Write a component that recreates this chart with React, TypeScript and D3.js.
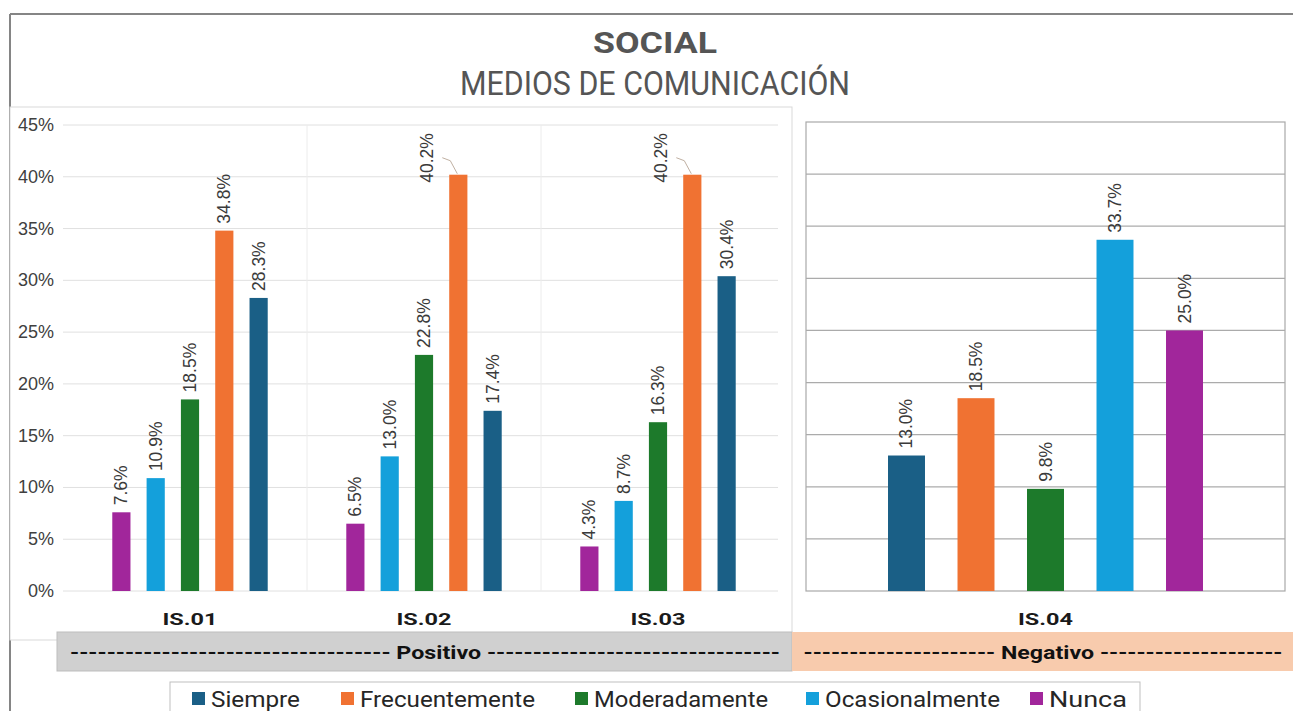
import * as d3 from "d3";

const categoriesPos = ["IS.01", "IS.02", "IS.03"];
const seriesPos = ["Nunca", "Ocasionalmente", "Moderadamente", "Frecuentemente", "Siempre"];
const nunca = [7.6, 6.5, 4.3];
const ocasionalmente = [10.9, 13.0, 8.7];
const moderadamente = [18.5, 22.8, 16.3];
const frecuentemente = [34.8, 40.2, 40.2];
const siempre = [28.3, 17.4, 30.4];

const categoriesNeg = ["IS.04"];
const seriesNeg = ["Siempre", "Frecuentemente", "Moderadamente", "Ocasionalmente", "Nunca"];
const valuesNeg = [13.0, 18.5, 9.8, 33.7, 25.0];

const yTicks = [0, 5, 10, 15, 20, 25, 30, 35, 40, 45];
const legendItems = ["Siempre", "Frecuentemente", "Moderadamente", "Ocasionalmente", "Nunca"];

const COLORS: Record<string, string> = {
  Siempre: "#1a5f86",
  Frecuentemente: "#f07232",
  Moderadamente: "#1d7a2b",
  Ocasionalmente: "#14a0db",
  Nunca: "#a1269b",
};

const posValues: Record<string, number[]> = {
  Nunca: nunca,
  Ocasionalmente: ocasionalmente,
  Moderadamente: moderadamente,
  Frecuentemente: frecuentemente,
  Siempre: siempre,
};

const W = 1293;
const H = 711;
const FONT = "'Liberation Sans', Arial, sans-serif";
const COND = "Roboto, 'Liberation Sans', sans-serif";

// left plot
const yL = d3.scaleLinear().domain([0, 45]).range([591, 125]);
const x0L = d3.scaleBand<string>().domain(categoriesPos).range([73, 775]);
const x1L = d3
  .scaleBand<string>()
  .domain(seriesPos)
  .range([0, x0L.bandwidth()])
  .paddingInner(0.47)
  .paddingOuter(1.145);

// right plot
const R = { left: 806, right: 1285, top: 122, bottom: 591 };
const yR = d3.scaleLinear().domain([0, 45]).range([R.bottom, R.top]);
const x0R = d3.scaleBand<string>().domain(categoriesNeg).range([R.left, R.right]);
const x1R = d3
  .scaleBand<string>()
  .domain(seriesNeg)
  .range([0, x0R.bandwidth()])
  .paddingInner(0.468)
  .paddingOuter(1.18);

function BarLabel({ cx, top, v }: { cx: number; top: number; v: number }) {
  const txt = `${v.toFixed(1)}%`;
  if (v >= 40) {
    // no room above: label moved left, with a leader line to the bar
    return (
      <g>
        <path
          d={`M${cx - 16},${top - 17} L${cx - 8},${top - 14} L${cx - 1},${top - 1}`}
          fill="none"
          stroke="#c0b0a2"
          strokeWidth={1}
        />
        <text
          transform={`translate(${cx - 31},${top + 8}) rotate(-90)`}
          dominantBaseline="central"
          fontFamily={FONT}
          fontSize={17.5}
          fill="#3a3a3a"
        >
          {txt}
        </text>
      </g>
    );
  }
  return (
    <text
      transform={`translate(${cx},${top - 7}) rotate(-90)`}
      dominantBaseline="central"
      fontFamily={FONT}
      fontSize={17.5}
      fill="#3a3a3a"
    >
      {txt}
    </text>
  );
}

export default function App() {
  const dashL = "-".repeat(35);
  const dashR = "-".repeat(32);
  const dashNL = "-".repeat(21);
  const dashNR = "-".repeat(20);
  const legendX = [192, 341, 575, 806, 1030];
  const legendW = [89, 175, 174, 175, 78];

  return (
    <svg
      width={W}
      height={H}
      viewBox={`0 0 ${W} ${H}`}
      style={{ position: "absolute", left: 0, top: 0, background: "#fff" }}
    >
      <rect x={0} y={0} width={W} height={H} fill="#fff" />

      {/* outer frame */}
      <line x1={10} y1={14} x2={W} y2={14} stroke="#858585" strokeWidth={2} />
      <line x1={10} y1={14} x2={10} y2={H} stroke="#858585" strokeWidth={2} />

      {/* titles */}
      <text
        x={655}
        y={53}
        textAnchor="middle"
        fontFamily={COND}
        fontWeight="bold"
        fontSize={29}
        fill="#555"
        textLength={124}
        lengthAdjust="spacingAndGlyphs"
      >
        SOCIAL
      </text>
      <text
        x={655}
        y={95}
        textAnchor="middle"
        fontFamily={COND}
        fontSize={34}
        fill="#555"
        textLength={390}
        lengthAdjust="spacingAndGlyphs"
      >
        MEDIOS DE COMUNICACIÓN
      </text>

      {/* left panel box */}
      <rect x={10} y={107} width={782} height={533} fill="#fff" stroke="#d9d9d9" strokeWidth={1} />

      {/* left gridlines */}
      {yTicks.map((t) => (
        <line key={t} x1={63} x2={778} y1={yL(t)} y2={yL(t)} stroke="#e0e0e0" strokeWidth={1} />
      ))}
      {categoriesPos.slice(1).map((c) => (
        <line
          key={c}
          x1={x0L(c)!}
          x2={x0L(c)!}
          y1={yL(45)}
          y2={yL(0)}
          stroke="#ececec"
          strokeWidth={1}
        />
      ))}
      {yTicks.map((t) => (
        <text
          key={t}
          x={54}
          y={yL(t)}
          textAnchor="end"
          dominantBaseline="central"
          fontFamily={FONT}
          fontSize={18}
          fill="#404040"
        >
          {`${t}%`}
        </text>
      ))}

      {/* left bars */}
      {categoriesPos.map((c, i) => (
        <g key={c} transform={`translate(${x0L(c)},0)`}>
          {seriesPos.map((s) => {
            const v = posValues[s][i];
            const bx = x1L(s)!;
            const top = yL(v);
            return (
              <g key={s}>
                <rect x={bx} y={top} width={x1L.bandwidth()} height={yL(0) - top} fill={COLORS[s]} />
                <BarLabel cx={bx + x1L.bandwidth() / 2} top={top} v={v} />
              </g>
            );
          })}
          <text
            x={x0L.bandwidth() / 2}
            y={625}
            textAnchor="middle"
            fontFamily={COND}
            fontWeight="bold"
            fontSize={17}
            fill="#1a1a1a"
            textLength={55}
            lengthAdjust="spacingAndGlyphs"
          >
            {c}
          </text>
        </g>
      ))}

      {/* right panel */}
      <rect
        x={R.left}
        y={R.top}
        width={R.right - R.left}
        height={R.bottom - R.top}
        fill="#fff"
        stroke="#a9a9a9"
        strokeWidth={1.2}
      />
      {yTicks.slice(1, -1).map((t) => (
        <line key={t} x1={R.left} x2={R.right} y1={yR(t)} y2={yR(t)} stroke="#ababab" strokeWidth={1.2} />
      ))}
      {categoriesNeg.map((c) => (
        <g key={c} transform={`translate(${x0R(c)},0)`}>
          {seriesNeg.map((s, j) => {
            const v = valuesNeg[j];
            const bx = x1R(s)!;
            const top = yR(v);
            return (
              <g key={s}>
                <rect x={bx} y={top} width={x1R.bandwidth()} height={yR(0) - top} fill={COLORS[s]} />
                <BarLabel cx={bx + x1R.bandwidth() / 2} top={top} v={v} />
              </g>
            );
          })}
          <text
            x={x0R.bandwidth() / 2}
            y={625}
            textAnchor="middle"
            fontFamily={COND}
            fontWeight="bold"
            fontSize={17}
            fill="#1a1a1a"
            textLength={55}
            lengthAdjust="spacingAndGlyphs"
          >
            {c}
          </text>
        </g>
      ))}

      {/* group bands */}
      <rect x={57} y={632} width={735} height={39} fill="#d0d0d0" stroke="#bdbdbd" strokeWidth={1} />
      <rect x={792} y={632} width={W - 792} height={39} fill="#f8cbad" />
      <text
        x={425}
        y={659}
        textAnchor="middle"
        fontFamily={COND}
        fontWeight="bold"
        fontSize={19}
        fill="#111"
        textLength={710}
        lengthAdjust="spacingAndGlyphs"
      >
        {`${dashL} Positivo ${dashR}`}
      </text>
      <text
        x={1043}
        y={659}
        textAnchor="middle"
        fontFamily={COND}
        fontWeight="bold"
        fontSize={19}
        fill="#111"
        textLength={479}
        lengthAdjust="spacingAndGlyphs"
      >
        {`${dashNL} Negativo ${dashNR}`}
      </text>

      {/* legend */}
      <rect x={170} y={682} width={970} height={40} fill="#fff" stroke="#bfbfbf" strokeWidth={1} />
      {legendItems.map((s, i) => (
        <g key={s}>
          <rect x={legendX[i]} y={692} width={13} height={13} fill={COLORS[s]} />
          <text
            x={legendX[i] + 19}
            y={707}
            fontFamily={COND}
            fontSize={22}
            fill="#262626"
            textLength={legendW[i]}
            lengthAdjust="spacingAndGlyphs"
          >
            {s}
          </text>
        </g>
      ))}
    </svg>
  );
}
